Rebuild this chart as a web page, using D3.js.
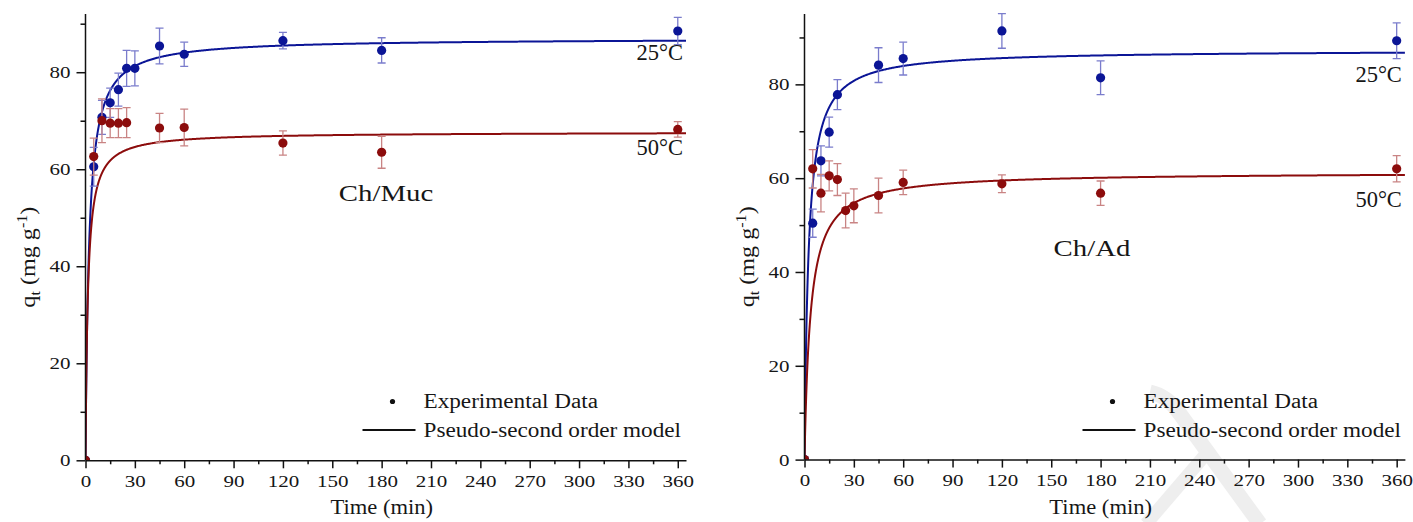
<!DOCTYPE html>
<html>
<head>
<meta charset="utf-8">
<script src="https://cdn.jsdelivr.net/npm/d3@7"></script>
<style>
  html, body { margin: 0; padding: 0; background: #fff; }
  svg { display: block; }
  text { font-family: "Liberation Serif", "Times New Roman", serif; fill: #161616; }
</style>
</head>
<body>
<svg id="chart" width="1413" height="522"></svg>
<script>
// ---- Ch/Muc adsorption kinetics ----
const tMuc25 = [0, 5, 10, 15, 20, 25, 30, 45, 60, 120, 180, 360];
const qMuc25 = [0, 60.5, 70.7, 73.7, 76.4, 80.8, 80.8, 85.4, 83.7, 86.5, 84.5, 88.5];
const eMuc25 = [0, 4.0, 3.5, 3.0, 3.4, 3.7, 3.6, 3.7, 2.5, 1.7, 2.6, 2.8];

const tMuc50 = [0, 5, 10, 15, 20, 25, 45, 60, 120, 180, 360];
const qMuc50 = [0, 62.6, 70.0, 69.5, 69.5, 69.6, 68.5, 68.6, 65.4, 63.5, 68.2];
const eMuc50 = [0, 3.8, 4.5, 3.0, 3.0, 3.1, 3.0, 3.8, 2.5, 3.3, 1.6];

// ---- Ch/Ad adsorption kinetics ----
const tAd25 = [0, 5, 10, 15, 20, 45, 60, 120, 180, 360];
const qAd25 = [0, 50.4, 63.7, 69.8, 77.8, 84.1, 85.5, 91.4, 81.4, 89.3];
const eAd25 = [0, 3.0, 3.2, 3.2, 3.2, 3.7, 3.5, 3.7, 3.6, 3.8];

const tAd50 = [0, 5, 10, 15, 20, 25, 30, 45, 60, 120, 180, 360];
const qAd50 = [0, 62.0, 56.8, 60.5, 59.7, 53.1, 54.1, 56.3, 59.1, 58.8, 56.8, 62.0];
const eAd50 = [0, 4.1, 4.0, 3.2, 3.4, 3.7, 3.6, 3.7, 2.6, 1.9, 2.6, 2.8];

// Pseudo-second order fit parameters: qe (mg/g) and k2 (g mg^-1 min^-1)
const fitLabels = ["Muc 25°C", "Muc 50°C", "Ad 25°C", "Ad 50°C"];
const fitQe = [87.0, 67.67, 87.34, 61.3];
const fitK2 = [0.00543, 0.01033, 0.00468, 0.0045];

// Axis ticks
const xMajorTicks = [0, 30, 60, 90, 120, 150, 180, 210, 240, 270, 300, 330, 360];
const xMinorTicks = [15, 45, 75, 105, 135, 165, 195, 225, 255, 285, 315, 345];
const yMajorTicks = [0, 20, 40, 60, 80];
const yMinorTicks = [10, 30, 50, 70, 90];

const tempLabels = ["25°C", "50°C"];
const panelTitles = ["Ch/Muc", "Ch/Ad"];
const legendLabels = ["Experimental Data", "Pseudo-second order model"];

const BLUE = "#0b1596";
const RED = "#8c0c0c";
const BLUE_ERR = "#7a7ccc";
const RED_ERR = "#c98484";

const svg = d3.select("#chart");

// faint "proof" watermark stroke behind the right panel
const wm = svg.append("g").attr("fill", "none").attr("stroke", "#eeeeee")
  .attr("stroke-linecap", "butt");
wm.append("path").attr("d", "M1150,392 Q1168,396 1180,414 L1260,524").attr("stroke-width", 15);
wm.append("path").attr("d", "M1206,454 L1146,524").attr("stroke-width", 13);

const zip = (t, q, e) => t.map((v, i) => ({ t: v, q: q[i], e: e[i] }));
const pso = (qe, k) => t => (k * qe * qe * t) / (1 + k * qe * t);
const tSamples = d3.range(0, 2, 0.01).concat(d3.range(2, 20, 0.05), d3.range(20, 365.01, 0.5));

// stretch a text element horizontally around its own anchor point
function stretch(sel, sx) {
  sel.each(function () {
    const el = d3.select(this);
    const x = +el.attr("x") || 0, y = +el.attr("y") || 0;
    el.attr("x", 0).attr("y", 0)
      .attr("transform", `translate(${x},${y}) scale(${sx},1)`);
  });
}

function drawPanel(cfg, idx) {
  const g = svg.append("g");
  const x = d3.scaleLinear().domain([0, 365]).range([cfg.left, cfg.right]);
  const y = d3.scaleLinear().domain([0, cfg.yMax]).range([cfg.bottom, cfg.top]);

  const clipId = "clip" + idx;
  svg.append("defs").append("clipPath").attr("id", clipId)
    .append("rect")
    .attr("x", x(0)).attr("y", y(cfg.yMax) - 12)
    .attr("width", x(365) - x(0) + 12).attr("height", y(0) - y(cfg.yMax) + 12);

  const plot = g.append("g").attr("clip-path", `url(#${clipId})`);

  // fitted model curves
  const line = d3.line().x(d => x(d[0])).y(d => y(d[1]));
  cfg.series.forEach(s => {
    const f = pso(fitQe[s.fit], fitK2[s.fit]);
    plot.append("path")
      .datum(tSamples.map(t => [t, f(t)]))
      .attr("d", line)
      .attr("fill", "none")
      .attr("stroke", s.color)
      .attr("stroke-width", 2);
  });

  // error bars and points
  cfg.series.forEach(s => {
    const eb = plot.append("g")
      .attr("stroke", s.errColor)
      .attr("stroke-width", 1.3)
      .attr("fill", "none");
    s.data.filter(d => d.e > 0).forEach(d => {
      const cx = x(d.t), y1 = y(d.q + d.e), y2 = y(d.q - d.e);
      eb.append("line").attr("x1", cx).attr("x2", cx).attr("y1", y1).attr("y2", y2);
      eb.append("line").attr("x1", cx - 4).attr("x2", cx + 4).attr("y1", y1).attr("y2", y1);
      eb.append("line").attr("x1", cx - 4).attr("x2", cx + 4).attr("y1", y2).attr("y2", y2);
    });
    plot.append("g").selectAll("circle")
      .data(s.data)
      .join("circle")
      .attr("cx", d => x(d.t))
      .attr("cy", d => y(d.q))
      .attr("r", 4.6)
      .attr("fill", s.color);
  });

  // axes
  const axisStyle = a => {
    a.selectAll("path.domain").attr("stroke", "#111").attr("stroke-width", 1.5);
    a.selectAll(".tick line").attr("stroke", "#111").attr("stroke-width", 1.5);
  };

  const xAxis = g.append("g").attr("transform", `translate(0,${y(0)})`)
    .call(d3.axisBottom(x).tickValues(xMajorTicks).tickSize(8).tickSizeOuter(0).tickPadding(6))
    .call(axisStyle);
  xAxis.selectAll(".tick text").attr("font-size", 17.5).attr("fill", "#161616")
    .style("font-family", '"Liberation Serif", "Times New Roman", serif');
  stretch(xAxis.selectAll(".tick text"), 1.2);

  g.append("g").attr("transform", `translate(0,${y(0)})`)
    .call(d3.axisBottom(x).tickValues(xMinorTicks).tickSize(4).tickFormat(""))
    .call(axisStyle)
    .select("path.domain").remove();

  const yAxis = g.append("g").attr("transform", `translate(${x(0)},0)`)
    .call(d3.axisLeft(y).tickValues(yMajorTicks).tickSize(9).tickSizeOuter(0).tickPadding(6))
    .call(axisStyle);
  yAxis.select("path.domain").attr("d", `M0,${y(0)}V${cfg.top}`);
  yAxis.selectAll(".tick text").attr("font-size", 17.5).attr("fill", "#161616")
    .style("font-family", '"Liberation Serif", "Times New Roman", serif');
  stretch(yAxis.selectAll(".tick text"), 1.2);

  g.append("g").attr("transform", `translate(${x(0)},0)`)
    .call(d3.axisLeft(y).tickValues(yMinorTicks).tickSize(5).tickFormat(""))
    .call(axisStyle)
    .select("path.domain").remove();

  // axis titles
  const xt = g.append("text")
    .attr("x", (x(0) + x(365)) / 2 - 4).attr("y", 514)
    .attr("text-anchor", "middle")
    .attr("font-size", 20)
    .text("Time (min)");
  stretch(xt, 1.13);

  const yt = g.append("text")
    .attr("transform", `translate(${x(0) - 51},${(cfg.top + cfg.bottom) / 2 + 20}) rotate(-90) scale(1.15,1)`)
    .attr("text-anchor", "middle")
    .attr("font-size", 21);
  yt.append("tspan").text("q");
  yt.append("tspan").attr("font-size", 14).attr("dy", 5).text("t");
  yt.append("tspan").attr("dy", -5).text(" (mg g");
  yt.append("tspan").attr("font-size", 14).attr("dy", -8).text("-1");
  yt.append("tspan").attr("dy", 8).text(")");

  // temperature labels
  cfg.series.forEach((s, i) => {
    g.append("text")
      .attr("x", x(365) - 3).attr("y", y(s.labelAt))
      .attr("text-anchor", "end")
      .attr("font-size", 22.5)
      .text(tempLabels[i]);
  });

  // panel title
  const pt = g.append("text")
    .attr("x", cfg.titleX).attr("y", y(cfg.titleAt))
    .attr("text-anchor", "middle")
    .attr("font-size", 24)
    .text(panelTitles[idx]);
  stretch(pt, 1.2);

  // legend
  const lx = x(0) + cfg.legendDx;
  g.append("circle").attr("cx", lx + 30).attr("cy", 401.5).attr("r", 2.6).attr("fill", "#111");
  g.append("line").attr("x1", lx).attr("x2", lx + 53).attr("y1", 430).attr("y2", 430)
    .attr("stroke", "#111").attr("stroke-width", 2);
  legendLabels.forEach((lab, i) => {
    const t = g.append("text").attr("x", lx + 61).attr("y", 408 + i * 29)
      .attr("font-size", 20).text(lab);
    stretch(t, 1.16);
  });
}

const panels = [
  {
    left: 85.5, right: 686, top: 14, bottom: 460.3, yMax: 92,
    titleX: 386, titleAt: 53.5, legendDx: 277,
    series: [
      { data: zip(tMuc25, qMuc25, eMuc25), fit: 0, color: BLUE, errColor: BLUE_ERR, labelAt: 82.5 },
      { data: zip(tMuc50, qMuc50, eMuc50), fit: 1, color: RED, errColor: RED_ERR, labelAt: 63 }
    ]
  },
  {
    left: 804.5, right: 1404.9, top: 14, bottom: 459.6, yMax: 95,
    titleX: 1092, titleAt: 43.5, legendDx: 278,
    series: [
      { data: zip(tAd25, qAd25, eAd25), fit: 2, color: BLUE, errColor: BLUE_ERR, labelAt: 80.5 },
      { data: zip(tAd50, qAd50, eAd50), fit: 3, color: RED, errColor: RED_ERR, labelAt: 53.8 }
    ]
  }
];

panels.forEach(drawPanel);
</script>
</body>
</html>
